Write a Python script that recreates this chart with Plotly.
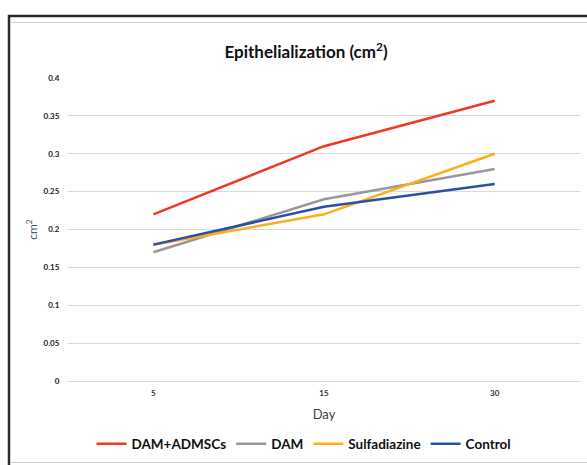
import plotly.graph_objects as go

days = ["5", "15", "30"]
series_names = ["DAM+ADMSCs", "DAM", "Sulfadiazine", "Control"]
dam_admscs = [0.22, 0.31, 0.37]
dam = [0.17, 0.24, 0.28]
sulfadiazine = [0.18, 0.22, 0.30]
control = [0.18, 0.23, 0.26]
y_ticks = [0, 0.05, 0.1, 0.15, 0.2, 0.25, 0.3, 0.35, 0.4]
y_tick_labels = ["0", "0.05", "0.1", "0.15", "0.2", "0.25", "0.3", "0.35", "0.4"]

colors = ["#ee3a24", "#9b969c", "#fcaf17", "#2a4fa6"]
values = [dam_admscs, dam, sulfadiazine, control]

W, H = 587, 465
L, R, T, B = 68, 7, 78, 84
pw, ph = W - L - R, H - T - B

fig = go.Figure()
for name, vals, c in zip(series_names, values, colors):
    fig.add_trace(go.Scatter(x=days, y=vals, mode="lines", name="<b>" + name + "</b>",
                             line=dict(color=c, width=2.5)))

def px_x(p):
    return (p - L) / pw

def px_y(p):
    return (H - B - p) / ph

shapes = [
    dict(type="line", xref="paper", yref="paper", x0=px_x(8), x1=px_x(600), y0=px_y(16), y1=px_y(16),
         line=dict(color="#2b2b2b", width=2.5)),
    dict(type="line", xref="paper", yref="paper", x0=px_x(9), x1=px_x(9), y0=px_y(15), y1=px_y(470),
         line=dict(color="#2b2b2b", width=2.5)),
    dict(type="line", xref="paper", yref="paper", x0=px_x(10), x1=px_x(600), y0=px_y(22.5), y1=px_y(22.5),
         line=dict(color="#d0d0d0", width=1)),
    dict(type="line", xref="paper", yref="paper", x0=px_x(10), x1=px_x(600), y0=px_y(462.5), y1=px_y(462.5),
         line=dict(color="#d0d0d0", width=1)),
]

fig.update_layout(
    width=W, height=H,
    margin=dict(l=L, r=R, t=T, b=B, autoexpand=False),
    paper_bgcolor="white", plot_bgcolor="white",
    font=dict(family="Lato", color="#222222"),
    title=dict(text="<b>Epithelialization (cm<sup>2</sup>)</b>", x=306 / W, xanchor="center",
               y=1 - 52 / H, yanchor="middle", font=dict(size=17, color="#111111")),
    showlegend=True,
    legend=dict(orientation="h", x=px_x(304), xanchor="center", y=px_y(444), yanchor="middle",
                font=dict(size=13.5, color="#111111", family="Lato"), itemwidth=30,
                bgcolor="rgba(0,0,0,0)", tracegroupgap=0),
    shapes=shapes,
)
fig.update_xaxes(type="category", range=[-0.5, 2.5], showgrid=False, showline=True,
                 linecolor="#d9d9d9", linewidth=1, zeroline=False, automargin=False,
                 ticks="outside", ticklen=4, tickcolor="rgba(0,0,0,0)",
                 tickfont=dict(size=8, color="#333333", family="Lato", weight="bold"),
                 title=dict(text="Day", font=dict(size=13, color="#404040"), standoff=13))
fig.update_yaxes(range=[0, 0.4], tickvals=y_ticks, ticktext=y_tick_labels, automargin=False,
                 showgrid=True, gridcolor="#d9d9d9", gridwidth=1, zeroline=False,
                 showline=False, ticks="outside", ticklen=6, tickcolor="rgba(0,0,0,0)",
                 tickfont=dict(size=8, color="#222222", family="Lato", weight="bold"),
                 title=dict(text="cm<sup>2</sup>", font=dict(size=12, color="#44546a"), standoff=3))

fig.write_html("out.html", config={"displayModeBar": False},
               post_script="document.body.style.margin='0';document.body.style.overflow='hidden';")
